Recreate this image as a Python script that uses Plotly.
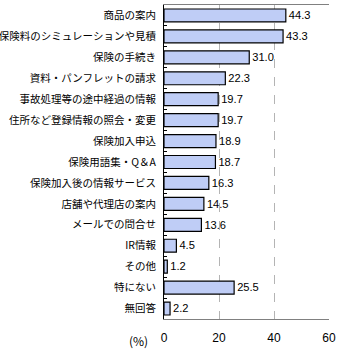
import plotly.graph_objects as go

categories = [
    "商品の案内", "保険料のシミュレーションや見積", "保険の手続き", "資料・パンフレットの請求",
    "事故処理等の途中経過の情報", "住所など登録情報の照会・変更", "保険加入申込", "保険用語集・Q＆A",
    "保険加入後の情報サービス", "店舗や代理店の案内", "メールでの問合せ", "IR情報", "その他",
    "特にない", "無回答",
]
values = [44.3, 43.3, 31.0, 22.3, 19.7, 19.7, 18.9, 18.7, 16.3, 14.5, 13.6, 4.5, 1.2, 25.5, 2.2]
x_ticks = [0, 20, 40, 60]

fig = go.Figure()
fig.add_trace(go.Bar(
    y=categories,
    x=values,
    orientation="h",
    marker=dict(color="#bfcdf6", line=dict(color="#000000", width=1.2)),
    text=[f"{v:.1f}" for v in values],
    textposition="outside",
    textfont=dict(family="Liberation Sans, Arial", size=12, color="#000000"),
    cliponaxis=False,
))

fig.update_layout(
    width=340, height=350,
    margin=dict(l=164, r=11, t=5, b=31, autoexpand=False),
    paper_bgcolor="white", plot_bgcolor="white",
    bargap=0.38,
    showlegend=False,
    font=dict(family="Noto Sans CJK JP", size=11, color="#000000"),
    xaxis=dict(
        range=[0, 60], tickvals=x_ticks, ticktext=[str(t) for t in x_ticks],
        showgrid=True, gridcolor="#b4b4b4", griddash="dash", gridwidth=1,
        zeroline=False, showline=True, linecolor="#808080", mirror=True,
        ticks="", tickfont=dict(family="Liberation Sans, Arial", size=12),
        ticklabelstandoff=8, automargin=False,
    ),
    yaxis=dict(
        autorange="reversed", showline=True, linecolor="#000000", linewidth=1,
        ticks="inside", ticklen=3, tickcolor="#000000", tickson="boundaries",
        showgrid=False, tickfont=dict(family="Noto Sans CJK JP", size=10.5),
        ticklabelstandoff=5, automargin=False,
    ),
)

fig.add_annotation(
    x=0, y=0, xref="paper", yref="paper", text="(%)", showarrow=False,
    xanchor="right", yanchor="top", xshift=-14, yshift=-11,
    font=dict(family="Noto Sans CJK JP", size=12),
)

fig.write_html("out.html")
